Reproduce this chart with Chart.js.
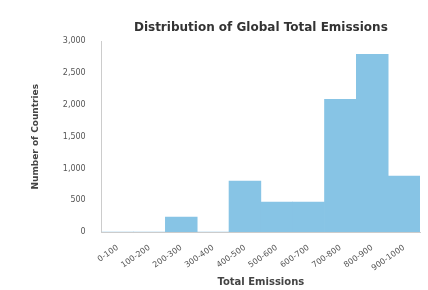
<!DOCTYPE html>
<html>
<head>
<meta charset="utf-8">
<script src="https://cdn.jsdelivr.net/npm/chart.js@4.4.0/dist/chart.umd.min.js"></script>
<style>
  html, body { margin: 0; padding: 0; background: #fff; }
  #wrap { width: 428px; height: 290px; }
</style>
</head>
<body>
<div id="wrap"><canvas id="myChart" width="428" height="290"></canvas></div>
<script>
// histogram bins and counts
const binLabels = ['0-100', '100-200', '200-300', '300-400', '400-500',
                   '500-600', '600-700', '700-800', '800-900', '900-1000'];
const binCounts = [0, 0, 236, 0, 801, 471, 471, 2089, 2796, 880];
const yTicks = [0, 500, 1000, 1500, 2000, 2500, 3000];

// center the title over the plot area, like matplotlib does
const titleOverPlot = {
  id: 'titleOverPlot',
  afterLayout(chart) {
    const t = chart.titleBlock;
    t.left = chart.chartArea.left;
    t.right = chart.chartArea.right;
    t.width = t.right - t.left;
  }
};

const ctx = document.getElementById('myChart').getContext('2d');
const myChart = new Chart(ctx, {
  type: 'bar',
  data: {
    labels: binLabels,
    datasets: [{
      data: binCounts,
      backgroundColor: '#87c4e5',
      borderWidth: 0,
      categoryPercentage: 1.0,
      barPercentage: 1.0,
    }],
  },
  plugins: [titleOverPlot],
  options: {
    responsive: false,
    animation: false,
    layout: { padding: { left: 26, right: 8, top: 0, bottom: 0 } },
    plugins: {
      legend: { display: false },
      tooltip: { enabled: false },
      title: {
        display: true,
        text: 'Distribution of Global Total Emissions',
        color: '#333',
        font: { family: 'DejaVu Sans', size: 12, weight: 'bold' },
        padding: { top: 21, bottom: 6 },
      },
    },
    scales: {
      x: {
        grid: { display: false },
        border: { color: '#ccc' },
        ticks: {
          color: '#555',
          font: { family: 'DejaVu Sans', size: 8 },
          maxRotation: 35,
          minRotation: 35,
          autoSkip: false,
        },
        title: {
          display: true,
          text: 'Total Emissions',
          color: '#444',
          font: { family: 'DejaVu Sans', size: 10, weight: 'bold' },
          padding: { top: 0, bottom: 2 },
        },
      },
      y: {
        min: 0,
        max: 3000,
        afterBuildTicks: axis => { axis.ticks = yTicks.map(v => ({ value: v })); },
        grid: { display: false },
        border: { color: '#ccc' },
        ticks: {
          color: '#555',
          font: { family: 'DejaVu Sans', size: 8 },
          padding: 8,
        },
        title: {
          display: true,
          text: 'Number of Countries',
          color: '#444',
          font: { family: 'DejaVu Sans', size: 9, weight: 'bold' },
          padding: { bottom: 14 },
        },
      },
    },
  },
});
</script>
</body>
</html>
